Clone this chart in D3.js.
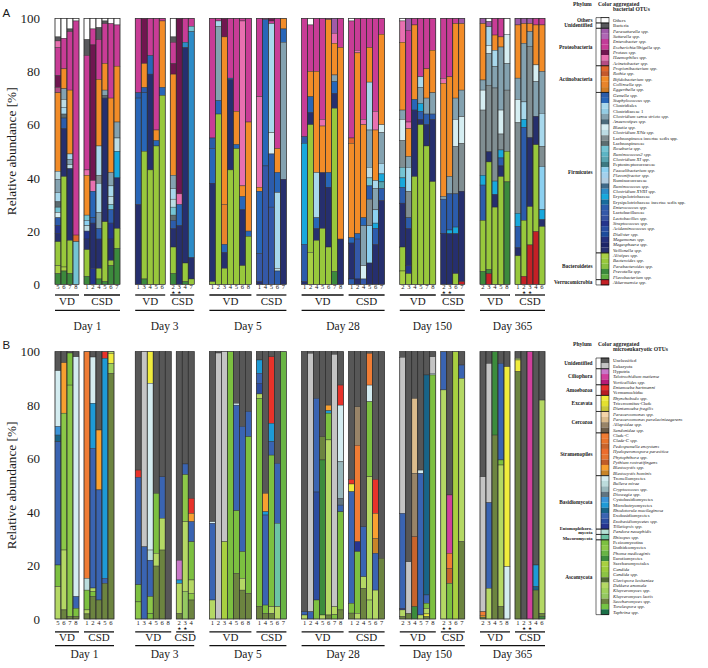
<!DOCTYPE html>
<html><head><meta charset="utf-8">
<script src="https://cdn.jsdelivr.net/npm/d3@7"></script>
<style>
body{margin:0;background:#fff}
svg{display:block}
text{font-family:"Liberation Serif","DejaVu Serif",serif;fill:#1a1a1a}
</style>
</head><body>
<svg id="chart" width="708" height="668"></svg>
<script>
// ---------------- categories ----------------
const days = ["Day 1","Day 3","Day 5","Day 28","Day 150","Day 365"];
const groupNames = ["VD","CSD"];
const yTicks = [0,20,40,60,80,100];
const starredSamples = [[],["2","3"],[],[],["2","3"],["2","3"]]; // CSD samples marked with a star

const bacNames = ["Others","Bacteria","Parasutterella spp.","Sutterella spp.","Enterobacter spp.","Escherichia/Shigella spp.","Proteus spp.","Haemophilus spp.","Acinetobacter spp.","Propionibacterium spp.","Rothia spp.","Bifidobacterium spp.","Collinsella spp.","Eggerthella spp.","Gemella spp.","Staphylococcus spp.","Clostridiales","Clostridiaceae 1","Clostridium sensu stricto spp.","Anaerostipes spp.","Blautia spp.","Clostridium XlVa spp.","Lachnospiracea incertae sedis spp.","Lachnospiraceae","Roseburia spp.","Ruminococcus2 spp.","Clostridium XI spp.","Peptostreptococcaceae","Faecalibacterium spp.","Flavonifractor spp.","Ruminococcaceae","Ruminococcus spp.","Clostridium XVIII spp.","Erysipelotrichaceae","Erysipelotrichaceae incertae sedis spp.","Enterococcus spp.","Lactobacillaceae","Lactobacillus spp.","Streptococcus spp.","Acidaminococcus spp.","Dialister spp.","Megamonas spp.","Megasphaera spp.","Veillonella spp.","Alistipes spp.","Bacteroides spp.","Parabacteroides spp.","Prevotella spp.","Flavobacterium spp.","Akkermansia spp."];
const bacCodes = ["oth","bac","para","sutt","entb","esch","prot","haem","acin","prop","roth","bifi","coll","egg","gem","staph","clos","cl1","css","anae","blau","c14","lis","lach","rose","rum2","c11","pept","faec","flav","rumc","rum","c18","ery","eris","ento","lacf","lact","strep","acid","dial","mega","msph","veil","alis","bact","parab","prev","flavo","akk"];
const bacColors = ["#ffffff","#58585c","#a05aa8","#b066b4","#c23c98","#c83c96","#701650","#e870b0","#b44c84","#e0662a","#c4582c","#f28c28","#e8842c","#d07c24","#2c5ca8","#2866b8","#a8d8ec","#94cce4","#84a2b0","#4c6c7c","#d6eef2","#bcdce4","#808e92","#5c6c70","#74c4d4","#5cb4c4","#58a4b0","#3c7880","#8cd0f0","#a4d0ec","#b0cce0","#406a88","#2c8cc8","#18a8dc","#186c9c","#2c5cac","#3458a8","#3450a0","#24348c","#284ca0","#1c4c9c","#24307c","#1c2468","#262f6e","#a8d044","#98c83c","#88c040","#3c8a3c","#5cac40","#c42026"];
const bacPlain = ["Others","Bacteria","Clostridiales","Clostridiaceae 1","Lachnospiracea incertae sedis spp.","Lachnospiraceae","Peptostreptococcaceae","Ruminococcaceae","Erysipelotrichaceae","Erysipelotrichaceae incertae sedis spp.","Lactobacillaceae"];
const bacPhyla = [["Others",0,0],["Unidentified",1,1],["Proteobacteria",2,8],["Actinobacteria",9,13],["Firmicutes",14,43],["Bacteroidetes",44,48],["Verrucomicrobia",49,49]];

const eukNames = ["Unclassified","Eukaryota","Hypotria","Telotrochidium matiense","Vorticellides spp.","Entamoeba hartmanni","Vermamoebidae","Rhynchobodo spp.","Tricercomitus-Clade","Dientamoeba fragilis","Paracercomonas spp.","Paracercomonas paralaciniaegerens","Allapsidae spp.","Sandonidae spp.","Clade-C","Clade-C spp.","Pedospumella encystans","Hyaloperonospora parasitica","Phytophthora spp.","Pythium rostratifingens","Blastocystis spp.","Blastocystis hominis","Tremellomycetes","Bullera mirae","Cryptococcus spp.","Dioszegia spp.","Cystobasidiomycetes","Microbotryomycetes","Rhodotorula mucilaginosa","Exobasidiomycetes","Exobasidiomycetes spp.","Tilletiopsis spp.","Pandora neoaphidis","Rhizopus spp.","Pezizomycotina","Dothideomycetes","Phoma medicaginis","Eurotiomycetes","Saccharomycetales","Candida","Candida spp.","Clavispora lusitaniae","Dekkera anomala","Kluyveromyces spp.","Kluyveromyces lactis","Saccharomyces spp.","Torulaspora spp.","Taphrina spp."];
const eukCodes = ["uncl","euk","hypo","telo","vort","ent","verm","rhyn","tric","dien","parc","parp","alla","sand","clC","clCs","pedo","hyal","phyt","pyth","blas","blah","trem","bull","cryp","dios","cyst","micr","rhod","exob","exos","till","pand","rhiz","pezi","doth","phom","euro","sacc","cand","cans","clav","dekk","kluy","klul","sacs","toru","taph"];
const eukColors = ["#575757","#c4c4c4","#c878c8","#d0409c","#b81c78","#e8322a","#b81c24","#f0ec3c","#e4e030","#c8c838","#f4d4a8","#dcbc8c","#988468","#6c5c48","#f07c34","#e8742c","#c8642c","#ec6c2c","#e47430","#c05c28","#f8a030","#c88428","#d4ecf0","#bcdcdc","#98b8bc","#607480","#3c94d8","#1e9ad6","#186488","#3a64b2","#2c4ca0","#283490","#b4e0d4","#6cc4a4","#7cc040","#8cc848","#68b444","#3c8c3c","#a8d040","#9ccc3c","#8cc444","#506c34","#b4d864","#a0d05c","#94c860","#6c8440","#74c444","#1c7048"];
const eukPlain = ["Unclassified","Eukaryota","Hypotria","Vermamoebidae","Tricercomitus-Clade","Clade-C","Tremellomycetes","Cystobasidiomycetes","Microbotryomycetes","Exobasidiomycetes","Pezizomycotina","Dothideomycetes","Eurotiomycetes","Saccharomycetales"];
const eukPhyla = [["Unidentified",0,1],["Ciliophora",2,4],["Amoebozoa",5,6],["Excavata",7,9],["Cercozoa",10,13],["Stramenopiles",14,21],["Basidiomycota",22,31],["Entomophthoro-|mycota",32,32],["Mucoromycota",33,33],["Ascomycota",34,47]];

// ---------------- panel A: bacteria (sample id, then category/value pairs top to bottom, %) ----------------
const aD1VD = [
 ["5","oth",7,"bac",1.5,"haem",2.5,"esch",10.5,"prot",4.5,"acin",2,"bifi",29.5,"c14",3,"css",5,"clos",3.5,"lach",2,"rose",2,"blau",2,"ento",3,"strep",3,"veil",3,"bact",9,"alis",3,"prev",4],
 ["6","oth",7.5,"esch",11.5,"bifi",7.5,"css",4,"c14",3,"clos",2.5,"lach",1.5,"ento",4,"veil",18,"bact",34,"alis",1.5,"prev",5],
 ["7","oth",4,"bac",1,"esch",22,"bifi",24,"clos",2,"css",2,"c14",1.5,"veil",27,"bact",12.5,"prev",4],
 ["8","oth",1,"esch",80.5,"prop",2.5,"rose",16]];
const aD1CSD = [
 ["1","oth",8,"bac",6,"esch",43,"haem",2,"bifi",15,"rose",2,"faec",2,"c14",2,"strep",3,"veil",4,"bact",10,"prev",3],
 ["2","oth",4,"esch",6,"prot",51,"haem",4,"staph",10,"gem",2,"veil",17,"strep",6],
 ["4","oth",3.5,"bac",4.5,"esch",15,"bifi",25,"clos",11,"lis",3,"clos",11,"css",6,"ento",4,"veil",11,"bact",4,"prev",2],
 ["5","oth",1,"bac",1,"esch",15,"bifi",10,"css",2,"lach",1,"veil",46.5,"bact",22.5,"prev",1],
 ["6","oth",2,"esch",28,"bifi",28,"css",5,"clos",4,"c14",3,"rose",2,"ento",5,"strep",6,"veil",8,"bact",2,"prev",7],
 ["7","oth",2.5,"esch",15.5,"bifi",21,"css",6,"c14",5,"ery",10,"veil",19,"bact",7.5,"prev",13.5]];
const aD3VD = [
 ["1","esch",28,"gem",2,"staph",40,"veil",30],
 ["3","prot",17,"bifi",9,"ento",2,"staph",22,"bact",48,"prev",2],
 ["4","esch",14,"staph",7,"veil",36,"bact",43],
 ["5","esch",42,"bifi",4,"staph",2,"bact",52],
 ["6","esch",1,"bifi",25,"staph",3,"bact",71]];
const aD3CSD = [
 ["2","oth",7,"bac",2,"esch",8,"prot",4,"bifi",38,"css",5,"clos",4,"c14",3,"rose",3,"lach",2,"ento",3,"veil",7,"bact",10,"prev",4],
 ["3","prot",66,"haem",4,"staph",8,"veil",22],
 ["4","esch",9,"c18",2,"veil",81,"bact",7,"prev",1],
 ["7","esch",3,"rose",2,"c18",85,"veil",8,"bact",2]];
const aD5VD = [
 ["1","esch",45,"gem",4,"staph",13,"veil",37,"bact",1],
 ["2","esch",1,"clos",2,"css",28,"staph",5,"bact",64],
 ["3","prot",7,"bifi",63,"coll",15,"staph",3,"veil",6,"bact",6],
 ["4","esch",22.5,"staph",0.5,"veil",34,"bact",43],
 ["5","esch",35,"bifi",12.5,"staph",1.5,"bact",51],
 ["6","esch",1,"haem",62,"bifi",4,"staph",5,"veil",21,"bact",7],
 ["8","esch",39,"bifi",41,"staph",2,"bact",18]];
const aD5CSD = [
 ["1","esch",29.5,"haem",34,"bifi",1.5,"staph",23.5,"lacf",10.5,"veil",1],
 ["4","esch",0.5,"staph",55,"lacf",44.5],
 ["5","prot",1,"esch",1,"clos",41,"blau",8,"ento",20,"lacf",29],
 ["6","esch",49,"bifi",9,"staph",7.5,"clos",28.5,"c14",1,"ento",5],
 ["7","bifi",4,"staph",5,"css",51.5,"veil",39.5]];
const aD28VD = [
 ["1","esch",44.5,"gem",2.5,"ery",38,"ento",14,"veil",1],
 ["2","oth",2.5,"esch",17.5,"bifi",9.5,"staph",6,"veil",4.5,"bact",48,"alis",12],
 ["4","esch",20,"bifi",38,"clos",17,"staph",4,"veil",4.5,"bact",16.5],
 ["5","esch",38,"haem",2.5,"bifi",17.5,"veil",21,"bact",21],
 ["6","esch",0.5,"bifi",57.5,"staph",5.5,"veil",22.5,"bact",14],
 ["7","para",5.6,"haem",3.8,"bifi",11.9,"css",2.5,"staph",4.4,"veil",5.6,"bact",61.4,"prev",4.8],
 ["8","esch",11,"bifi",72,"veil",17]];
const aD28CSD = [
 ["1","oth",1,"esch",44,"prop",2,"bifi",35.5,"staph",2,"veil",13.5,"ento",2],
 ["2","esch",12,"haem",1,"bifi",68,"staph",2,"lacf",15,"veil",2],
 ["4","esch",38,"haem",2,"bifi",35,"staph",3,"css",15,"blau",5,"lacf",2],
 ["5","esch",11,"bifi",13,"clos",18,"css",14,"c14",4,"rose",3,"ento",5,"lis",10,"faec",14,"veil",8],
 ["6","esch",35,"haem",7,"bifi",19,"clos",3,"css",8,"faec",5,"ery",2,"ento",6,"veil",15],
 ["7","esch",6,"bifi",34,"blau",3,"css",11.5,"clos",4,"ery",3,"c11",2.5,"ento",4.5,"veil",31.5]];
const aD150VD = [
 ["2","oth",1,"haem",8,"bifi",25.5,"css",3.5,"blau",8,"lis",10,"rose",4,"ery",3.5,"ento",6,"veil",16.5,"bact",9,"alis",5],
 ["3","para",4.5,"esch",34.5,"haem",2.5,"bifi",10.5,"css",4,"clos",9,"lis",10,"ento",4,"veil",14,"strep",3,"bact",4],
 ["4","esch",2.5,"bifi",28,"staph",4,"veil",25,"bact",40.5],
 ["5","esch",22,"clos",4,"css",6,"ery",3,"ento",3,"veil",2,"bact",60],
 ["7","esch",19,"bifi",11,"css",6,"ento",4,"veil",8,"bact",52],
 ["8","esch",12,"bifi",16,"css",8,"ento",2,"veil",23.4,"bact",38.6]];
const aD150CSD = [
 ["2","esch",22.6,"haem",1.8,"bifi",42.6,"css",1,"ento",12.8,"veil",19.2],
 ["3","esch",22,"bifi",37.5,"css",6.5,"ento",13.6,"ery",1.4,"veil",19],
 ["6","esch",2,"bifi",28,"css",8,"blau",10.2,"lis",17.8,"ento",12.5,"ery",2.5,"veil",15,"bact",4],
 ["7","para",2,"bifi",25,"css",10,"blau",10,"lis",18,"veil",34,"akk",1]];
const aD365VD = [
 ["2","para",2,"bifi",21.2,"css",3.8,"blau",7.5,"lis",24.5,"ery",3.7,"ento",13.3,"bact",19.2,"prev",4.8],
 ["3","oth",1.2,"para",2,"clos",7,"blau",3,"css",12,"lis",25,"veil",3.8,"bact",40.5,"prev",1.5,"akk",4],
 ["4","esch",6.3,"bifi",5.7,"clos",6.2,"css",8,"lis",35,"ery",5,"veil",4.8,"bact",29],
 ["5","esch",7,"bifi",3.8,"css",23.7,"blau",9,"lis",6,"ery",3,"ento",3,"veil",4,"bact",40.5],
 ["8","oth",6,"blau",11,"css",10,"lis",23,"bact",11.5,"prev",38.5]];
const aD365CSD = [
 ["1","para",2.5,"bifi",20,"css",8,"blau",8.8,"lis",34,"ery",5,"ento",8,"veil",3,"bact",10.7],
 ["2","para",2,"bifi",7.4,"css",22,"clos",6.5,"ery",3,"ento",35,"bact",21,"akk",3],
 ["3","para",2,"bifi",3,"css",5.5,"lis",34.3,"veil",26,"bact",14.4,"akk",14.8],
 ["4","esch",2.5,"bifi",15,"blau",6.3,"css",13,"veil",10.7,"bact",32.6,"akk",19.8],
 ["6","esch",2.5,"bifi",17.5,"css",15.7,"clos",12.5,"lis",7.5,"faec",16.3,"ery",3.7,"veil",2.6,"bact",21.7]];

// ---------------- panel B: microeukaryotes ----------------
const bD1VD = [
 ["5","uncl",7.1,"trem",20.9,"cyst",3.2,"rhod",2.5,"exob",46.1,"pezi",8.1,"dekk",12.1],
 ["6","uncl",4.1,"blas",18.9,"doth",51.2,"dekk",22.4,"sacs",3.4],
 ["7","uncl",0.5,"pezi",12,"doth",86.6,"sacs",0.9],
 ["8","uncl",1.9,"trem",89.7,"exob",4.4,"pezi",3,"sacs",1]];
const bD1CSD = [
 ["1","clC",84.8,"bull",4.4,"pezi",7.4,"dekk",1.5,"sacs",1.9],
 ["2","uncl",2,"trem",17.3,"micr",16.9,"exob",52.3,"dekk",1.3,"pezi",1.9,"sacs",8.4],
 ["4","uncl",29.3,"blas",22.4,"exob",41.2,"sacs",7.1],
 ["5","ent",2.5,"micr",82.3,"exob",1.9,"sacs",13.3],
 ["6","dekk",0.6,"rhyn",3.8,"kluy",3.7,"sacs",91.9]];
const bD3VD = [
 ["1","uncl",44.3,"ent",2.7,"exob",40.2,"pezi",6.4,"doth",6.4],
 ["3","euk",73,"exob",27],
 ["4","rhyn",11.8,"trem",62.4,"bull",3.8,"exob",13.6,"doth",6.4,"pezi",2],
 ["5","uncl",53,"pezi",22.4,"dekk",4.8,"sacs",19.8],
 ["6","uncl",46.8,"exob",15.5,"dekk",11.9,"sacs",25.8],
 ["8","uncl",100]];
const bD3CSD = [
 ["2","uncl",78,"hypo",7.4,"micr",1.3,"dekk",11.3,"sacs",2],
 ["3","uncl",42,"exob",4,"doth",17.6,"dekk",26,"klul",10.4],
 ["4","uncl",54.9,"ent",5.6,"blas",3.1,"exob",7.5,"pezi",14.3,"dekk",5,"doth",2.5,"sacs",7.1]];
const bD5VD = [
 ["1","uncl",63.6,"trem",0.6,"exob",28.7,"dekk",7.1],
 ["2","uncl",0.5,"euk",99.5],
 ["3","euk",71.1,"sacc",28.9],
 ["4","pezi",100],
 ["5","uncl",19.3,"trem",0.7,"exob",39.5,"pezi",23.4,"sacs",17.1],
 ["6","uncl",28,"exob",46.8,"pezi",10,"dekk",4.4,"sacs",10.8],
 ["8","uncl",22.4,"exob",9.4,"pezi",58.6,"sacs",9.6]];
const bD5CSD = [
 ["1","uncl",3.1,"micr",5,"exob",3.7,"exos",4,"dekk",1.7,"pezi",77.9,"sacs",4.6],
 ["4","uncl",53,"blas",6.9,"micr",1.2,"exob",33.7,"pezi",3.1,"sacs",2.1],
 ["5","uncl",1.9,"ent",24.9,"micr",6.9,"exob",5,"pezi",56.7,"dekk",2.5,"sacs",2.1],
 ["6","uncl",41.8,"exob",22.4,"rhiz",31.2,"dekk",4.6],
 ["7","phom",100]];
const bD28VD = [
 ["1","uncl",97.3,"exob",1.2,"dekk",1.5],
 ["2","uncl",0.6,"euk",96.7,"exob",2.7],
 ["4","uncl",17.5,"exob",35,"exos",40.4,"pezi",7.1],
 ["5","uncl",31.8,"sacs",8.7,"euro",58,"dekk",1.5],
 ["6","uncl",20,"blas",2.1,"micr",0.9,"pezi",10,"dekk",65.5,"sacs",1.5],
 ["7","uncl",1,"euk",94.4,"dekk",3,"pezi",1.6],
 ["8","uncl",12.5,"ent",7.5,"trem",21.2,"cryp",13.7,"dios",2.5,"exob",2.5,"pezi",36.7,"sacs",3.4]];
const bD28CSD = [
 ["1","uncl",47.8,"ent",1.7,"rhyn",2.9,"exob",41.7,"pezi",3.7,"sacs",2.2],
 ["2","uncl",20.6,"alla",14.4,"clC",36.1,"till",3.7,"pezi",23.1,"dekk",2.1],
 ["4","uncl",65.5,"exob",18.7,"dekk",4.3,"sacs",11.5],
 ["5","uncl",0.6,"clC",11.9,"trem",6.2,"pezi",28.1,"dekk",46.1,"kluy",7.1],
 ["6","uncl",47.8,"ent",12.7,"blas",9.3,"blah",5.6,"exob",13.8,"dekk",10.8],
 ["7","uncl",77.3,"sacs",22.7]];
const bD150VD = [
 ["2","uncl",2.1,"euk",58.4,"exob",35.5,"till",0.6,"dekk",2.5,"sacs",0.9],
 ["3","uncl",78.6,"euk",19.3,"sacs",2.1],
 ["4","uncl",17.5,"parp",28,"alla",23.7,"pedo",26.2,"euro",4.6],
 ["5","uncl",44.3,"trem",1.2,"exob",53,"dekk",1.5],
 ["7","uncl",8.7,"rhod",82.3,"exob",3.1,"pezi",2,"dekk",2,"rhyn",1,"sacs",0.9],
 ["8","uncl",1.9,"euk",6.2,"trem",0.6,"pezi",91.3]];
const bD150CSD = [
 ["2","exob",14.3,"dekk",85.7],
 ["3","uncl",53.6,"telo",21.8,"clC",5.6,"pedo",5.7,"pezi",13.3],
 ["6","sacc",100],
 ["7","uncl",5,"exob",5,"dekk",61.1,"sacs",28.9]];
const bD365VD = [
 ["2","uncl",46.8,"euk",50.5,"clC",1.3,"blas",0.7,"sacs",0.7],
 ["3","uncl",4.4,"euk",52.1,"exob",32,"dekk",11.5],
 ["4","euro",31.2,"sacs",68.8],
 ["5","uncl",4.4,"exob",36.1,"pezi",1.9,"dekk",53,"sacs",4.6],
 ["8","uncl",5.6,"rhyn",74.8,"trem",19.6]];
const bD365CSD = [
 ["1","uncl",2.5,"dekk",0.6,"rhyn",4.4,"sacs",92.5],
 ["2","uncl",100],
 ["3","telo",100],
 ["4","uncl",79.8,"micr",8.1,"rhod",1.3,"sacs",10.8],
 ["6","uncl",18.1,"dekk",79.8,"sacs",1.2,"euro",0.9]];

// ---------------- helpers ----------------
function parseGroup(arr){
  return arr.map(r => {
    const segs = [];
    for (let i = 1; i < r.length; i += 2) segs.push({k:r[i], v:r[i+1]});
    return {id:r[0], segs};
  });
}
const panelA = [[aD1VD,aD1CSD],[aD3VD,aD3CSD],[aD5VD,aD5CSD],[aD28VD,aD28CSD],[aD150VD,aD150CSD],[aD365VD,aD365CSD]].map(d => d.map(parseGroup));
const panelB = [[bD1VD,bD1CSD],[bD3VD,bD3CSD],[bD5VD,bD5CSD],[bD28VD,bD28CSD],[bD150VD,bD150CSD],[bD365VD,bD365CSD]].map(d => d.map(parseGroup));

const svg = d3.select("#chart");
const STEP = 6, GGAP = 5, X0 = 55, X1 = 545;
const dayW = panelA.map(([v,c]) => v.length*STEP + GGAP + c.length*STEP);
const dayGap = (X1 - X0 - d3.sum(dayW)) / (days.length - 1);
const dayStart = [];
{ let cx = X0; dayW.forEach(w => { dayStart.push(cx); cx += w + dayGap; }); }

const colorA = d3.scaleOrdinal(bacCodes, bacColors);
const colorB = d3.scaleOrdinal(eukCodes, eukColors);

function drawPanel(data, y, color, cfg){
  const g = svg.append("g");
  const ax = g.append("g").attr("transform", "translate(43,0)")
    .call(d3.axisLeft(y).tickValues(yTicks).tickSize(0).tickPadding(3));
  ax.select(".domain").remove();
  ax.selectAll("text").style("font-family","Liberation Serif, serif").style("font-size","13px").attr("fill","#1a1a1a");
  g.append("text").attr("transform", `translate(15.5,${(y(0)+y(100))/2}) rotate(-90)`)
    .attr("text-anchor","middle").style("font-size","13.3px").text("Relative abundance [%]");
  g.append("text").attr("x",2.5).attr("y",cfg.letterY).style("font-family","Liberation Sans, Arial, sans-serif")
    .style("font-size","11.5px").text(cfg.letter);

  data.forEach((pair, di) => {
    let gx = dayStart[di];
    const dayLeft = gx;
    let dayRight = gx;
    pair.forEach((grp, gi) => {
      const w = grp.length * STEP;
      const xb = d3.scaleBand().domain(grp.map(d => d.id)).range([gx, gx + w]).padding(0);
      grp.forEach(s => {
        const tot = d3.sum(s.segs, d => d.v);
        let acc = 100;
        const bar = g.append("g");
        s.segs.forEach(seg => {
          const v = seg.v * 100 / tot;
          const top = acc, bot = acc - v; acc = bot;
          bar.append("rect").attr("x", xb(s.id)).attr("width", xb.bandwidth())
            .attr("y", y(top)).attr("height", Math.max(0, y(bot) - y(top)))
            .attr("fill", color(seg.k)).attr("stroke", "#2a2a2a").attr("stroke-width", 0.4);
        });
        bar.append("rect").attr("x", xb(s.id)).attr("width", xb.bandwidth())
          .attr("y", y(100)).attr("height", y(0) - y(100))
          .attr("fill","none").attr("stroke","#333").attr("stroke-width",0.6);
        g.append("text").attr("x", xb(s.id) + xb.bandwidth()/2).attr("y", cfg.numY)
          .attr("text-anchor","middle").style("font-size","6.6px").attr("fill","#333").text(s.id);
        if (gi === 1 && starredSamples[di].includes(s.id)) {
          g.append("text").attr("x", xb(s.id) + xb.bandwidth()/2).attr("y", cfg.starY)
            .attr("text-anchor","middle").style("font-family","DejaVu Sans, sans-serif")
            .style("font-size","4.6px").attr("fill","#222").text("\u2605");
        }
      });
      g.append("line").attr("x1", gx).attr("x2", gx + w).attr("y1", cfg.gLineY).attr("y2", cfg.gLineY)
        .attr("stroke","#111").attr("stroke-width",1.3);
      g.append("text").attr("x", gx + w/2).attr("y", cfg.gTextY).attr("text-anchor","middle")
        .style("font-size","11px").text(groupNames[gi]);
      dayRight = gx + w;
      gx += w + GGAP;
    });
    g.append("line").attr("x1", dayLeft).attr("x2", dayRight).attr("y1", cfg.dLineY).attr("y2", cfg.dLineY)
      .attr("stroke","#111").attr("stroke-width",1.3);
    g.append("text").attr("x", (dayLeft + dayRight)/2).attr("y", cfg.dTextY).attr("text-anchor","middle")
      .style("font-size","11.5px").text(days[di]);
  });
}

const yA = d3.scaleLinear([0,100],[284.3,18.3]);
const yB = d3.scaleLinear([0,100],[619,351.7]);
drawPanel(panelA, yA, colorA, {letter:"A", letterY:16.5, numY:289.4, starY:294.2, gLineY:295, gTextY:305.2, dLineY:310.3, dTextY:330});
drawPanel(panelB, yB, colorB, {letter:"B", letterY:349, numY:625.4, starY:630.2, gLineY:631.9, gTextY:640.6, dLineY:645.6, dTextY:657.5});

// ---------------- legends ----------------
function drawLegend(names, codes, color, plain, phyla, cfg){
  const g = svg.append("g");
  const RH = 5.347, SX = 601, SW = 8, BX = 596;
  const rowTop = i => cfg.top + i*RH;
  g.append("text").attr("x",573).attr("y",cfg.hY).style("font-size","5.6px").style("font-weight","bold").text("Phylum");
  g.append("text").attr("x",598).attr("y",cfg.hY).style("font-size","5.6px").style("font-weight","bold").text("Color");
  g.append("text").attr("x",613).attr("y",cfg.hY).style("font-size","5.6px").style("font-weight","bold").text("aggregated");
  g.append("text").attr("x",613).attr("y",cfg.hY+5.2).style("font-size","5.6px").style("font-weight","bold").text(cfg.h2);
  names.forEach((n,i) => {
    g.append("rect").attr("x",SX).attr("y",rowTop(i)).attr("width",SW).attr("height",RH+0.05)
      .attr("fill", color(codes[i]));
    g.append("text").attr("x",613).attr("y",rowTop(i)+RH/2+1.6).style("font-size","4.7px")
      .style("font-style", plain.includes(n) ? "normal" : "italic").text(n);
  });
  g.append("rect").attr("x",SX).attr("y",rowTop(0)).attr("width",SW).attr("height",names.length*RH)
    .attr("fill","none").attr("stroke","#111").attr("stroke-width",0.6);
  phyla.forEach(([name,a,b]) => {
    const t = rowTop(a), bt = rowTop(b+1);
    g.append("path").attr("d",`M${SX+SW},${t}H${BX}V${bt}H${SX+SW}`).attr("fill","none")
      .attr("stroke","#111").attr("stroke-width",0.6);
    const lines = name.split("|");
    const cy = (t+bt)/2 + (lines.length > 1 ? -0.9 : (name === "Mucoromycota" ? 1.2 : 0));
    const fs = lines.length > 1 || name === "Mucoromycota" ? 4.6 : 5.3;
    lines.forEach((ln,li) => {
      g.append("text").attr("x",592.5).attr("y", cy + 1.5 + (li - (lines.length-1)/2)*4.0)
        .attr("text-anchor","end").style("font-size",fs+"px").style("font-weight","bold").text(ln);
    });
  });
}
drawLegend(bacNames, bacCodes, colorA, bacPlain, bacPhyla, {top:17.6, hY:6, h2:"bacterial OTUs"});
drawLegend(eukNames, eukCodes, colorB, eukPlain, eukPhyla, {top:358, hY:345.5, h2:"microeukaryotic OTUs"});
</script>
</body></html>
